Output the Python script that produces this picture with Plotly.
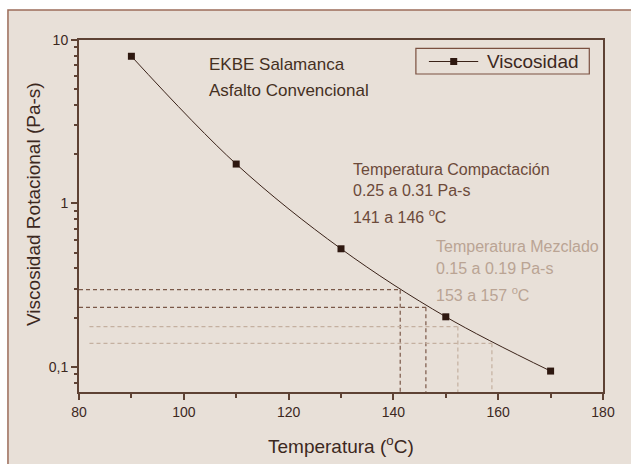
import plotly.graph_objects as go

# ---- data ----
temperatura = [90, 110, 130, 150, 170]
viscosidad = [7.95, 1.74, 0.527, 0.202, 0.094]

# compaction / mixing guide lines (temperature, viscosity)
comp_temp = [141.3, 146.2]
comp_visc = [0.296, 0.231]
mez_temp = [152.3, 158.8]
mez_visc = [0.176, 0.139]

x_ticks = [80, 100, 120, 140, 160, 180]
y_ticks = [0.1, 1, 10]
y_ticktext = ["0,1", "1", "10"]

# ---- layout helpers (pixel -> paper) ----
W, H = 631, 464
L, R, T, B = 79, 602.7, 40, 392
def px(x):
    return (x - L) / (R - L)
def py(y):
    return (B - y) / (B - T)

BG = "#e8e0d8"
AXC = "#5e4234"
TXT = "#3c281e"
DARKDASH = "#7a5848"
LIGHTDASH = "#c4b0a0"
FONT = "Liberation Sans, Arial, sans-serif"

y_min_log = -1.155
y_bottom = 10 ** y_min_log

fig = go.Figure()

# guide lines
for t, v in zip(comp_temp, comp_visc):
    fig.add_trace(go.Scatter(x=[80, t], y=[v, v], mode="lines", showlegend=False,
                             line=dict(color=DARKDASH, width=1.2, dash="4px,3px"), hoverinfo="skip"))
    fig.add_trace(go.Scatter(x=[t, t], y=[v, y_bottom], mode="lines", showlegend=False,
                             line=dict(color=DARKDASH, width=1.2, dash="4px,3px"), hoverinfo="skip"))
for t, v in zip(mez_temp, mez_visc):
    fig.add_trace(go.Scatter(x=[82, t], y=[v, v], mode="lines", showlegend=False,
                             line=dict(color=LIGHTDASH, width=1.2, dash="4px,3px"), hoverinfo="skip"))
    fig.add_trace(go.Scatter(x=[t, t], y=[v, y_bottom], mode="lines", showlegend=False,
                             line=dict(color=LIGHTDASH, width=1.2, dash="4px,3px"), hoverinfo="skip"))

LINEC = "#3a2218"
MARKC = "#2e1810"
fig.add_trace(go.Scatter(
    x=temperatura, y=viscosidad, mode="lines+markers", name="Viscosidad",
    line=dict(color=LINEC, width=1, shape="spline"),
    marker=dict(symbol="square", size=7, color=MARKC),
    showlegend=False,
))

minor_y = [0.08, 0.09] + [k / 10 for k in range(2, 10)] + list(range(2, 10))

fig.update_xaxes(
    range=[80, 180], tickvals=x_ticks, ticks="outside", ticklen=6, tickwidth=1.5,
    tickcolor=AXC, showline=True, linecolor=AXC, linewidth=2, mirror=True,
    showgrid=False, zeroline=False,
    tickfont=dict(family=FONT, size=14, color=TXT),
    minor=dict(tickvals=[90, 110, 130, 150, 170], ticks="outside", ticklen=4,
               tickcolor=AXC, tickwidth=1.5, showgrid=False),
)
fig.update_yaxes(
    type="log", range=[y_min_log, 1], tickvals=y_ticks, ticktext=y_ticktext,
    ticks="outside", ticklen=6, tickwidth=1.5, tickcolor=AXC,
    showline=True, linecolor=AXC, linewidth=2, mirror=True,
    showgrid=False, zeroline=False,
    tickfont=dict(family=FONT, size=14, color=TXT),
    minor=dict(tickvals=minor_y, ticks="outside", ticklen=3, tickcolor=AXC,
               tickwidth=1.5, showgrid=False),
)

# outer frame
fig.add_shape(type="rect", xref="paper", yref="paper",
              x0=px(8), y0=py(475), x1=px(640), y1=py(10),
              fillcolor=BG, line=dict(color="#9c6c5a", width=1.5), layer="below")

# legend box (drawn manually to match the reference proportions)
fig.add_shape(type="rect", xref="paper", yref="paper",
              x0=px(415.7), y0=py(74), x1=px(589), y1=py(48.3),
              fillcolor=BG, line=dict(color="#7a5040", width=1.2))
fig.add_shape(type="line", xref="paper", yref="paper",
              x0=px(428.7), y0=py(61.5), x1=px(478), y1=py(61.5),
              line=dict(color=LINEC, width=1))
fig.add_shape(type="rect", xref="paper", yref="paper",
              x0=px(450), y0=py(65), x1=px(457), y1=py(58),
              fillcolor=MARKC, line=dict(color=MARKC, width=0))

def ann(text, x, y, size, color, xanchor="left", angle=0):
    fig.add_annotation(text=text, xref="paper", yref="paper", x=px(x), y=py(y),
                       xanchor=xanchor, yanchor="middle", showarrow=False,
                       textangle=angle, font=dict(family=FONT, size=size, color=color))

ann("Viscosidad", 485, 61.5, 19, TXT)
ann("EKBE Salamanca", 207, 64, 17, "#45301f")
ann("Asfalto Convencional", 207, 90.5, 17, "#45301f")
CC = "#6c4a3a"
ann("Temperatura Compactación", 351, 169, 16, CC)
ann("0.25 a 0.31 Pa-s", 351, 190.5, 16, CC)
ann("141 a 146 <sup>o</sup>C", 351, 215.5, 16, CC)
MC = "#baa494"
ann("Temperatura Mezclado", 434, 246.5, 16, MC)
ann("0.15 a 0.19 Pa-s", 434, 268, 16, MC)
ann("153 a 157 <sup>o</sup>C", 434, 293.5, 16, MC)

ann("Temperatura (<sup>o</sup>C)", 341, 445, 19, TXT, xanchor="center")
ann("Viscosidad Rotacional (Pa-s)", 33, 204, 19, TXT, xanchor="center", angle=-90)

fig.update_layout(
    width=W, height=H, margin=dict(l=L, r=W - R, t=T, b=H - B),
    paper_bgcolor="white", plot_bgcolor=BG,
    font=dict(family=FONT, color=TXT),
    showlegend=False,
)

fig.write_html("out.html")
